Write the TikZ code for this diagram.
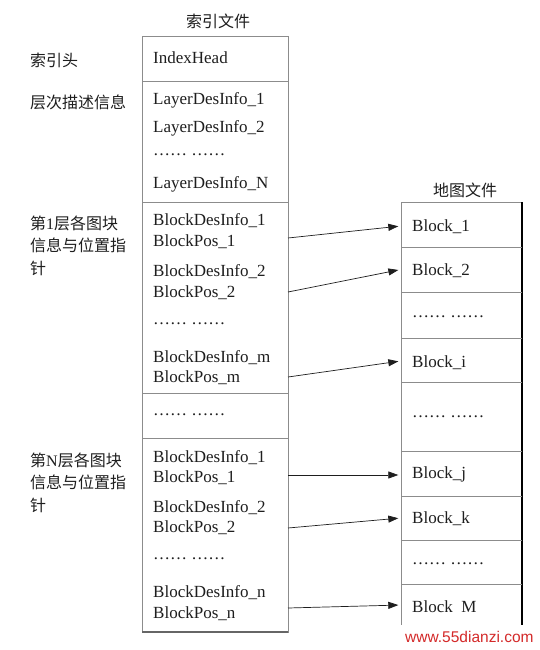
\documentclass[tikz,border=0pt]{standalone}
\usepackage{fontspec}
\setmainfont{Liberation Serif}
\newfontfamily\cjk{Noto Sans CJK SC}
\newfontfamily\wmfont{Liberation Sans}
\usetikzlibrary{arrows.meta}
\definecolor{boxgray}{HTML}{8C8C8C}
\definecolor{ink}{HTML}{1E1E1E}
\definecolor{wmred}{HTML}{D42A2A}
\begin{document}
\begin{tikzpicture}[x=1pt,y=-1pt,
  box/.style={draw=boxgray, line width=0.9pt},
  txt/.style={anchor=base west, inner sep=0pt, font=\fontsize{17}{20}\selectfont, text=ink},
  zh/.style={anchor=base west, inner sep=0pt, font=\cjk\fontsize{16}{22.5}\selectfont, text=ink, align=left},
  ttl/.style={anchor=base, inner sep=0pt, font=\cjk\fontsize{16}{20}\selectfont, text=ink},
  cell/.style={minimum width=121pt, inner sep=0pt, draw=none},
  arr/.style={-{Triangle[length=10pt,width=7pt]}, line width=0.7pt, draw=ink, shorten >=2.5pt}
]
\useasboundingbox[fill=white] (0,0) rectangle (540,650);

% ---------- titles ----------
\node[ttl] (t1) at (218,28) {索引文件};
\node[ttl] (t2) at (465,196) {地图文件};

% ---------- left box (index file) ----------
\draw[box] (142,36) rectangle (288,632);
\draw[box] (142,81) -- (288,81);
\draw[box] (142,202) -- (288,202);
\draw[box] (142,393) -- (288,393);
\draw[box] (142,438) -- (288,438);
\draw[draw=black!60, line width=1.6pt] (142,632) -- (288,632);

\node[txt] (ih)  at (153,64)  {IndexHead};
\node[txt] (l1)  at (153,105) {LayerDesInfo\_1};
\node[txt] (l2)  at (153,132) {LayerDesInfo\_2};
\node[txt] (ld)  at (153,155) {…… ……};
\node[txt] (ln)  at (153,188) {LayerDesInfo\_N};

\node[txt] (a1)  at (153,225) {BlockDesInfo\_1};
\node[txt] (a1p) at (153,246) {BlockPos\_1};
\node[txt] (a2)  at (153,276) {BlockDesInfo\_2};
\node[txt] (a2p) at (153,297) {BlockPos\_2};
\node[txt] (ad)  at (153,324) {…… ……};
\node[txt] (am)  at (153,362) {BlockDesInfo\_m};
\node[txt] (amp) at (153,382) {BlockPos\_m};

\node[txt] (md)  at (153,415) {…… ……};

\node[txt] (c1)  at (153,462) {BlockDesInfo\_1};
\node[txt] (c1p) at (153,482) {BlockPos\_1};
\node[txt] (c2)  at (153,512) {BlockDesInfo\_2};
\node[txt] (c2p) at (153,532) {BlockPos\_2};
\node[txt] (cd)  at (153,559) {…… ……};
\node[txt] (cn)  at (153,597) {BlockDesInfo\_n};
\node[txt] (cnp) at (153,618) {BlockPos\_n};

% ---------- left labels (base anchor = last line's baseline) ----------
\node[zh] (z1) at (30,67)  {索引头};
\node[zh] (z2) at (30,109) {层次描述信息};
\node[zh] (z3) at (30,274) {第{\fontspec{Liberation Serif}1}层各图块\\信息与位置指\\针};
\node[zh] (z4) at (30,511) {第{\fontspec{Liberation Serif}N}层各图块\\信息与位置指\\针};

% ---------- right box (map file) ----------
\draw[box] (522,202) -- (401,202) -- (401,625);
\draw[draw=black, line width=1.4pt] (522,202) -- (522,625);
\foreach \yy in {247,292,338,382,451,496,540,584}
  \draw[box] (401,\yy) -- (522,\yy);

\node[cell, minimum height=45pt] (b1) at (461.5,226) {};
\node[cell, minimum height=45pt] (b2) at (461.5,269.5) {};
\node[cell, minimum height=44pt] (bi) at (461.5,361) {};
\node[cell, minimum height=45pt] (bj) at (461.5,475) {};
\node[cell, minimum height=44pt] (bk) at (461.5,518) {};
\node[cell, minimum height=41pt] (bm) at (461.5,605) {};

\node[txt] (r1) at (412,231) {Block\_1};
\node[txt] (r2) at (412,275) {Block\_2};
\node[txt] (r3) at (412,317) {…… ……};
\node[txt] (r4) at (412,367) {Block\_i};
\node[txt] (r5) at (412,417) {…… ……};
\node[txt] (r6) at (412,478) {Block\_j};
\node[txt] (r7) at (412,523) {Block\_k};
\node[txt] (r8) at (412,564) {…… ……};
\node[txt] (r9) at (412,612) {Block\phantom{\_}M};

% ---------- pointer arrows ----------
\coordinate (s1) at (288,238);
\coordinate (s2) at (288,292);
\coordinate (s3) at (288,377);
\coordinate (s4) at (288,475);
\coordinate (s5) at (288,528);
\coordinate (s6) at (288,608);
\draw[arr] (s1) -- (b1.west);
\draw[arr] (s2) -- (b2.west);
\draw[arr] (s3) -- (bi.west);
\draw[arr] (s4) -- (bj.west);
\draw[arr] (s5) -- (bk.west);
\draw[arr] (s6) -- (bm.west);

% ---------- watermark ----------
\node[anchor=base west, inner sep=0pt, font=\wmfont\fontsize{15.5}{16}\selectfont, text=wmred] (wm) at (405,642) {www.55dianzi.com};
\end{tikzpicture}
\end{document}
